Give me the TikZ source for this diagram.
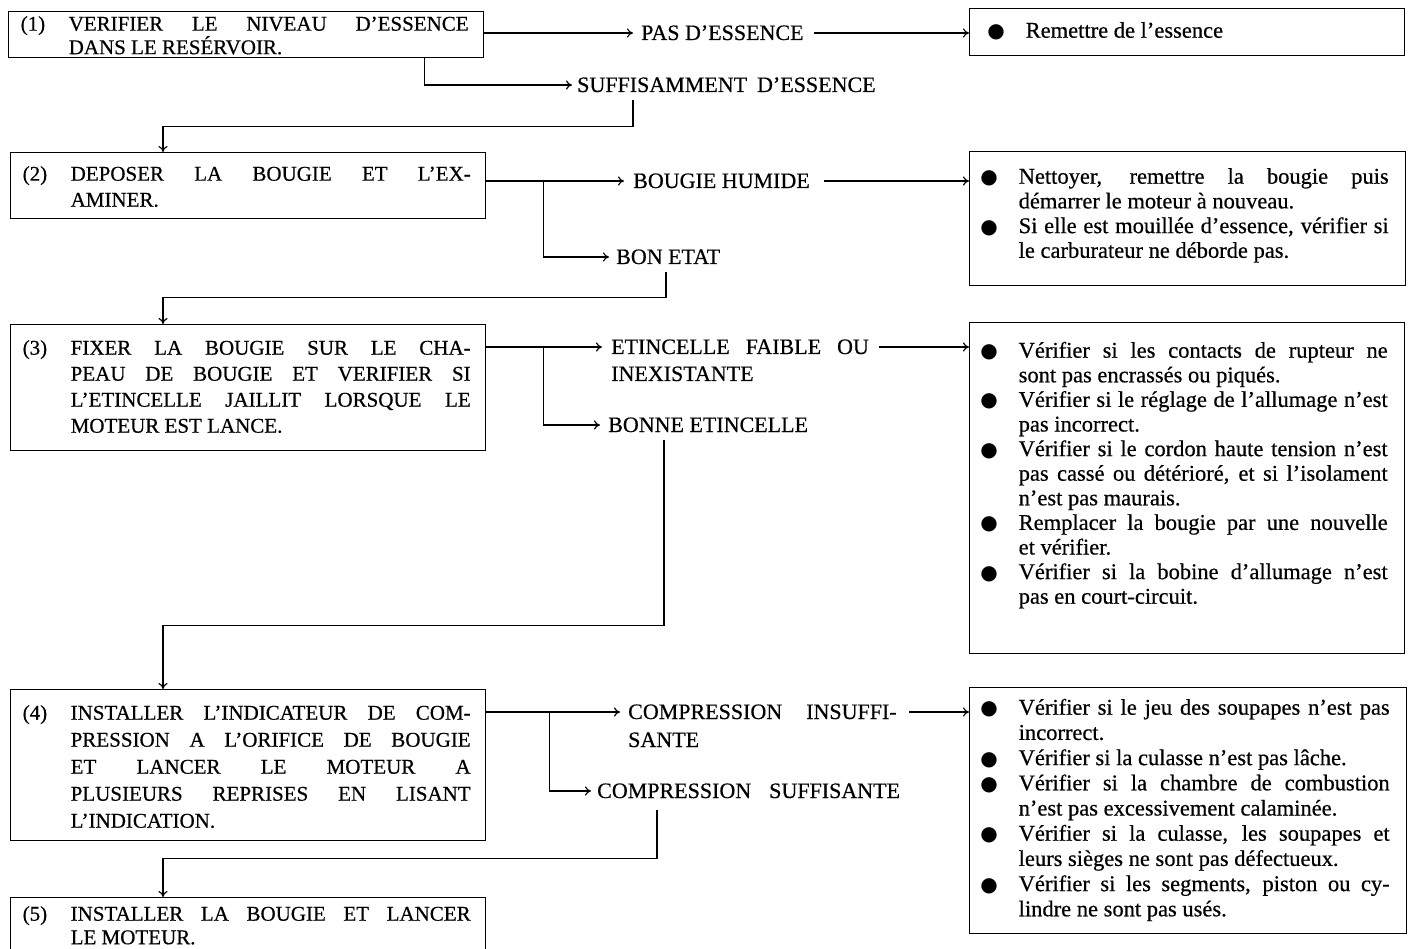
\documentclass[tikz,border=0pt]{standalone}
\usepackage{fontspec}
\setmainfont[FakeBold=0.5]{Liberation Serif}
\newfontfamily\dejavu{DejaVu Sans}
\usetikzlibrary{arrows.meta,calc}

% large round bullet hung in the left margin of a note
\newcommand\bulletmark{\llap{{\dejavu\fontsize{20}{20}\selectfont ●}\hspace{21pt}}}
\newcommand\noteitem{\par\noindent\bulletmark}

% step box body: #1 width, #2 height, #3 first baseline, #4 line pitch, #5 number, #6 text
\newcommand\stepbody[6]{\parbox[c][#2][t]{#1}{\fontsize{21}{#4}\selectfont
  \leftskip=12pt\rightskip=15pt\parindent=0pt\tolerance=10000
  \hyphenpenalty=10000\exhyphenpenalty=10000
  \hangindent=48pt\hangafter=1
  \noindent\rule{0pt}{#3}\makebox[48pt][l]{#5}#6\par}}

% note box body: [#1 text indent], #2 width, #3 height, #4 first baseline, #5 line pitch, #6 items
\newcommand\notebody[6][49pt]{\parbox[c][#3][t]{#2}{\fontsize{22.5}{#5}\selectfont
  \leftskip=#1\rightskip=17pt\parindent=0pt\tolerance=10000
  \hyphenpenalty=10000\exhyphenpenalty=10000
  \everypar{\rule{0pt}{#4}\everypar{}}#6\par}}

\tikzset{
  stepbox/.style={draw, line width=1.4pt, inner sep=0pt, anchor=north west},
  notebox/.style={draw, line width=1.4pt, inner sep=0pt, anchor=north west},
  lbl/.style={inner sep=0pt, anchor=west, font=\fontsize{22}{27}\selectfont,
    text height=14pt, text depth=0pt},
  flow/.style={draw, line width=1.2pt, -{To[length=6pt,width=9pt]}},
}

\begin{document}
\begin{tikzpicture}[x=1pt,y=-1pt]
\useasboundingbox (0,0) rectangle (1413,949);
\clip (0,0) rectangle (1413,949);

% ---- steps (left column)
\node[stepbox] (s1) at (8,11) {\stepbody{475pt}{46pt}{19pt}{20pt}{(1)}{VERIFIER LE NIVEAU D’ESSENCE\linebreak DANS LE RESÉRVOIR.}};
\node[stepbox] (s2) at (10,152) {\stepbody{475pt}{66pt}{28pt}{26pt}{(2)}{DEPOSER LA BOUGIE ET L’EX-\linebreak AMINER.}};
\node[stepbox] (s3) at (10,324) {\stepbody{475pt}{126pt}{30pt}{26pt}{(3)}{FIXER LA BOUGIE SUR LE CHA-\linebreak PEAU DE BOUGIE ET VERIFIER SI\linebreak L’ETINCELLE JAILLIT LORSQUE LE\linebreak MOTEUR EST LANCE.}};
\node[stepbox] (s4) at (10,689) {\stepbody{475pt}{151pt}{30pt}{27pt}{(4)}{INSTALLER L’INDICATEUR DE COM-\linebreak PRESSION A L’ORIFICE DE BOUGIE\linebreak ET LANCER LE MOTEUR A\linebreak PLUSIEURS REPRISES EN LISANT\linebreak L’INDICATION.}};
\node[stepbox] (s5) at (10,897) {\stepbody{475pt}{80pt}{23pt}{23.5pt}{(5)}{INSTALLER LA BOUGIE ET LANCER\linebreak LE MOTEUR.}};

% ---- remedies (right column)
\node[notebox] (r1) at (969,8) {\notebody[56pt]{435pt}{47pt}{29pt}{24.7pt}{\noteitem Remettre de l’essence}};
\node[notebox] (r2) at (969,151) {\notebody{436pt}{134pt}{32pt}{24.7pt}{%
  \noteitem Nettoyer, remettre la bougie puis\linebreak démarrer le moteur à nouveau.
  \noteitem Si elle est mouillée d’essence, vérifier si\linebreak le carburateur ne déborde pas.}};
\node[notebox] (r3) at (969,322) {\notebody{435pt}{331pt}{35pt}{24.6pt}{%
  \noteitem Vérifier si les contacts de rupteur ne\linebreak sont pas encrassés ou piqués.
  \noteitem Vérifier si le réglage de l’allumage n’est\linebreak pas incorrect.
  \noteitem Vérifier si le cordon haute tension n’est\linebreak pas cassé ou détérioré, et si l’isolament\linebreak n’est pas maurais.
  \noteitem Remplacer la bougie par une nouvelle\linebreak et vérifier.
  \noteitem Vérifier si la bobine d’allumage n’est\linebreak pas en court-circuit.}};
\node[notebox] (r4) at (969,687) {\notebody{437pt}{246pt}{27pt}{25.2pt}{%
  \noteitem Vérifier si le jeu des soupapes n’est pas\linebreak incorrect.
  \noteitem Vérifier si la culasse n’est pas lâche.
  \noteitem Vérifier si la chambre de combustion\linebreak n’est pas excessivement calaminée.
  \noteitem Vérifier si la culasse, les soupapes et\linebreak leurs sièges ne sont pas défectueux.
  \noteitem Vérifier si les segments, piston ou cy-\linebreak lindre ne sont pas usés.}};

% ---- outcome labels
\node[lbl] (l1a) at (641,33) {PAS D’ESSENCE};
\node[lbl] (l1b) at (577,85) {SUFFISAMMENT\hspace{10pt}D’ESSENCE};
\node[lbl] (l2a) at (633,181) {BOUGIE HUMIDE};
\node[lbl] (l2b) at (616,257) {BON ETAT};
\node[lbl] (l3a) at (611,347) {\begin{tabular}[t]{@{}l@{}}ETINCELLE\hspace{16pt}FAIBLE\hspace{16pt}OU\\INEXISTANTE\end{tabular}};
\node[lbl] (l3b) at (608,425) {BONNE ETINCELLE};
\node[lbl] (l4a) at (628,712) {\begin{tabular}[t]{@{}l@{}}COMPRESSION\hspace{24pt}INSUFFI-\\[1pt]SANTE\end{tabular}};
\node[lbl] (l4b) at (597,791) {COMPRESSION\hspace{18pt}SUFFISANTE};

% ---- step 1
\draw[flow] (s1.east |- l1a.west) -- ($(l1a.west)+(-8,0)$);
\draw[flow] ($(l1a.east)+(10,0)$) -- (l1a.east -| r1.west);
\draw[flow] ($(s1.south east)+(-60,0)$) |- ($(l1b.west)+(-5,0)$);
\draw[flow] ($(l1b.south west)+(56,8)$) -- ++(0,26) -| ($(s2.north west)+(153,0)$);

% ---- step 2
\draw[flow] (s2.east |- l2a.west) -- ($(l2a.west)+(-9,0)$);
\draw[flow] ($(l2a.east)+(14,0)$) -- (l2a.east -| r2.west);
\draw[flow] ($(s2.east |- l2a.west)+(57,0)$) |- ($(l2b.west)+(-7,0)$);
\draw[flow] ($(l2b.south west)+(50,8)$) -- ++(0,25) -| ($(s3.north west)+(153,0)$);

% ---- step 3
\draw[flow] (s3.east |- l3a.west) -- ($(l3a.west)+(-9,0)$);
\draw[flow] ($(l3a.east)+(10,0)$) -- (l3a.east -| r3.west);
\draw[flow] ($(s3.east |- l3a.west)+(57,0)$) |- ($(l3b.west)+(-8,0)$);
\draw[flow] ($(l3b.south west)+(56,8)$) -- ++(0,185) -| ($(s4.north west)+(153,0)$);

% ---- step 4
\draw[flow] (s4.east |- l4a.west) -- ($(l4a.west)+(-8,0)$);
\draw[flow] ($(l4a.east)+(12,0)$) -- (l4a.east -| r4.west);
\draw[flow] ($(s4.east |- l4a.west)+(63,0)$) |- ($(l4b.west)+(-6,0)$);
\draw[flow] ($(l4b.south west)+(60,12)$) -- ++(0,48) -| ($(s5.north west)+(153,0)$);
\end{tikzpicture}
\end{document}
